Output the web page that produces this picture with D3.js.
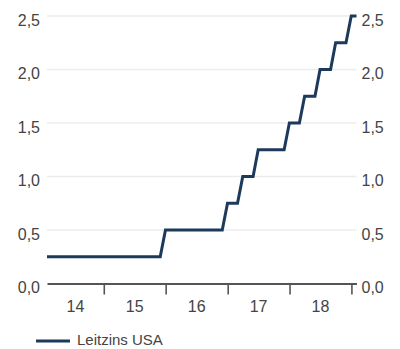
<!DOCTYPE html>
<html>
<head>
<meta charset="utf-8">
<script src="https://cdn.jsdelivr.net/npm/d3@7"></script>
<style>
  html, body { margin: 0; padding: 0; background: #fff; }
  svg { display: block; }
  text { font-family: "Liberation Sans", Arial, Helvetica, sans-serif; fill: #444; }
</style>
</head>
<body>
<svg id="chart" width="400" height="349"></svg>
<script>
// US policy rate (upper bound, %), month-end values
const months = [
  "2014-01","2014-02","2014-03","2014-04","2014-05","2014-06","2014-07","2014-08","2014-09","2014-10","2014-11","2014-12",
  "2015-01","2015-02","2015-03","2015-04","2015-05","2015-06","2015-07","2015-08","2015-09","2015-10","2015-11","2015-12",
  "2016-01","2016-02","2016-03","2016-04","2016-05","2016-06","2016-07","2016-08","2016-09","2016-10","2016-11","2016-12",
  "2017-01","2017-02","2017-03","2017-04","2017-05","2017-06","2017-07","2017-08","2017-09","2017-10","2017-11","2017-12",
  "2018-01","2018-02","2018-03","2018-04","2018-05","2018-06","2018-07","2018-08","2018-09","2018-10","2018-11","2018-12",
  "2019-01"
];
const leitzins = [
  0.25,0.25,0.25,0.25,0.25,0.25,0.25,0.25,0.25,0.25,0.25,0.25,
  0.25,0.25,0.25,0.25,0.25,0.25,0.25,0.25,0.25,0.25,0.25,0.50,
  0.50,0.50,0.50,0.50,0.50,0.50,0.50,0.50,0.50,0.50,0.50,0.75,
  0.75,0.75,1.00,1.00,1.00,1.25,1.25,1.25,1.25,1.25,1.25,1.50,
  1.50,1.50,1.75,1.75,1.75,2.00,2.00,2.00,2.25,2.25,2.25,2.50,
  2.50
];
const yTicks = [0, 0.5, 1.0, 1.5, 2.0, 2.5];
const yearLabels = ["14", "15", "16", "17", "18"];
const seriesName = "Leitzins USA";

const parseMonth = d3.timeParse("%Y-%m");
// each value belongs to the last day of its month
const monthEnd = s => d3.timeDay.offset(d3.timeMonth.offset(parseMonth(s), 1), -1);
const data = months.map((m, i) => ({ date: monthEnd(m), value: leitzins[i] }));

const svg = d3.select("#chart");
const plotLeft = 47, plotRight = 356.5, plotTop = 16, plotBottom = 283.5;
const labelSize = 16;

const x = d3.scaleTime()
  .domain(d3.extent(data, d => d.date))
  .range([plotLeft, plotRight]);
const y = d3.scaleLinear()
  .domain([0, 2.5])
  .range([plotBottom, plotTop]);

const fmt = v => d3.format(".1f")(v).replace(".", ",");

// horizontal gridlines
svg.append("g")
  .selectAll("line")
  .data(yTicks.filter(v => v > 0))
  .join("line")
  .attr("x1", plotLeft).attr("x2", plotRight)
  .attr("y1", d => y(d)).attr("y2", d => y(d))
  .attr("stroke", "#ececec")
  .attr("stroke-width", 1.5);

// y labels on both sides
const yAxisL = d3.axisLeft(y).tickValues(yTicks).tickFormat(fmt).tickSize(0).tickPadding(7);
const yAxisR = d3.axisRight(y).tickValues(yTicks).tickFormat(fmt).tickSize(0).tickPadding(5);
[[yAxisL, plotLeft], [yAxisR, plotRight]].forEach(([ax, pos]) => {
  const g = svg.append("g").attr("transform", `translate(${pos},0)`).call(ax);
  g.select(".domain").remove();
  g.selectAll("text")
    .attr("font-size", labelSize)
    .attr("font-family", "Liberation Sans, Arial, sans-serif")
    .attr("fill", "#444")
    .attr("dy", "0.57em");
});

// x axis: baseline and year-boundary ticks
const [d0, d1] = x.domain();
const yearStarts = d3.timeYear.range(d0, d1).filter(d => d > d0);
const xAxis = d3.axisBottom(x)
  .tickValues(yearStarts)
  .tickSize(11)
  .tickFormat("")
  .tickSizeOuter(0);
const gx = svg.append("g")
  .attr("transform", `translate(0,${plotBottom})`)
  .call(xAxis);
gx.select(".domain").attr("stroke", "#555").attr("stroke-width", 2);
gx.selectAll(".tick line").attr("stroke", "#555").attr("stroke-width", 1.6);

// year labels centred within each visible year span
svg.append("g")
  .selectAll("text")
  .data(yearLabels)
  .join("text")
  .attr("x", (lab, i) => {
    const yr = 2014 + i;
    const a = new Date(Math.max(new Date(yr, 0, 1), d0));
    const b = new Date(Math.min(new Date(yr + 1, 0, 1), d1));
    return (x(a) + x(b)) / 2;
  })
  .attr("y", 311.5)
  .attr("text-anchor", "middle")
  .attr("font-size", labelSize)
  .text(d => d);

// rate line
const line = d3.line().x(d => x(d.date)).y(d => y(d.value));
svg.append("path")
  .datum(data)
  .attr("d", line)
  .attr("fill", "none")
  .attr("stroke", "#1c3a5b")
  .attr("stroke-width", 3)
  .attr("stroke-linejoin", "miter");

// legend
const lg = svg.append("g");
lg.append("line")
  .attr("x1", 36).attr("x2", 70)
  .attr("y1", 341).attr("y2", 341)
  .attr("stroke", "#1c3a5b")
  .attr("stroke-width", 3);
lg.append("text")
  .attr("x", 77).attr("y", 345)
  .attr("font-size", 15)
  .text(seriesName);
</script>
</body>
</html>
